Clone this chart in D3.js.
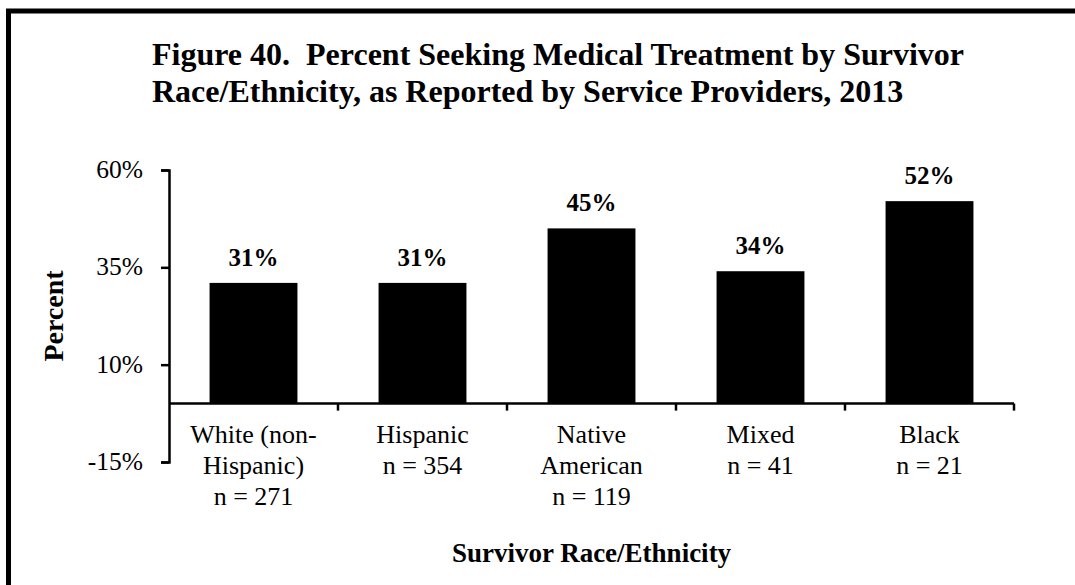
<!DOCTYPE html>
<html>
<head>
<meta charset="utf-8">
<script src="https://cdn.jsdelivr.net/npm/d3@7"></script>
<style>
  body { margin: 0; background: #fff; }
  svg { display: block; font-family: "Liberation Serif", "Times New Roman", serif; }
  text { white-space: pre; }
</style>
</head>
<body>
<div id="chart"></div>
<script>
const categories = [
  ["White (non-", "Hispanic)", "n = 271"],
  ["Hispanic", "n = 354"],
  ["Native", "American", "n = 119"],
  ["Mixed", "n = 41"],
  ["Black", "n = 21"]
];
const values = [31, 31, 45, 34, 52];
const yTicks = [-15, 10, 35, 60];
const titleLines = [
  "Figure 40.  Percent Seeking Medical Treatment by Survivor",
  "Race/Ethnicity, as Reported by Service Providers, 2013"
];

const width = 1075, height = 585;
const margin = { left: 169, right: 61, top: 170, bottom: 123 };

const svg = d3.select('#chart')
  .append('svg')
  .attr('width', width)
  .attr('height', height);

// frame (runs off the right and bottom edge like the original)
svg.append('rect')
  .attr('x', 8.5).attr('y', 11)
  .attr('width', 1100).attr('height', 600)
  .attr('fill', 'none')
  .attr('stroke', '#000')
  .attr('stroke-width', 5);

svg.append('text')
  .attr('x', 152).attr('y', 65)
  .attr('font-size', 32).attr('font-weight', 'bold')
  .selectAll('tspan')
  .data(titleLines)
  .enter()
  .append('tspan')
  .attr('x', 152)
  .attr('dy', (d, i) => i === 0 ? 0 : 37)
  .text(d => d);

const x = d3.scaleBand()
  .domain(d3.range(values.length))
  .range([margin.left, width - margin.right])
  .paddingInner(0.48)
  .paddingOuter(0.24);

const y = d3.scaleLinear()
  .domain([-15, 60])
  .range([height - margin.bottom, margin.top]);

// bars
svg.selectAll('rect.bar')
  .data(values)
  .enter()
  .append('rect')
  .attr('class', 'bar')
  .attr('x', (d, i) => x(i))
  .attr('y', d => y(d))
  .attr('width', x.bandwidth())
  .attr('height', d => y(0) - y(d))
  .attr('fill', '#000');

// value labels
svg.selectAll('text.val')
  .data(values)
  .enter()
  .append('text')
  .attr('class', 'val')
  .attr('x', (d, i) => x(i) + x.bandwidth() / 2)
  .attr('y', d => y(d) - 17)
  .attr('text-anchor', 'middle')
  .attr('font-size', 25)
  .attr('font-weight', 'bold')
  .text(d => d + '%');

// y axis
const yAxis = svg.append('g')
  .attr('transform', `translate(${margin.left},0)`)
  .call(d3.axisLeft(y).tickValues(yTicks).tickSize(8).tickPadding(18).tickFormat(d => d + '%'));
yAxis.select('.domain').attr('stroke', '#000').attr('stroke-width', 2.5);
yAxis.selectAll('.tick line').attr('stroke', '#000').attr('stroke-width', 2.5);
yAxis.selectAll('.tick text')
  .attr('font-family', '"Liberation Serif", serif')
  .attr('font-size', 25.5)
  .attr('fill', '#000')
  .attr('dy', '0.3em');

// x axis along zero, ticks between categories
const step = x.step();
const boundaries = d3.range(values.length + 1).map(i => margin.left + i * step);
const xg = svg.append('g');
xg.append('line')
  .attr('x1', margin.left).attr('x2', width - margin.right)
  .attr('y1', y(0)).attr('y2', y(0))
  .attr('stroke', '#000').attr('stroke-width', 2.5);
xg.selectAll('line.tk')
  .data(boundaries.slice(1))
  .enter()
  .append('line')
  .attr('class', 'tk')
  .attr('x1', d => d).attr('x2', d => d)
  .attr('y1', y(0)).attr('y2', y(0) + 7)
  .attr('stroke', '#000').attr('stroke-width', 2.5);

// category labels
const cat = svg.selectAll('text.cat')
  .data(categories)
  .enter()
  .append('text')
  .attr('class', 'cat')
  .attr('text-anchor', 'middle')
  .attr('font-size', 26)
  .attr('y', 443);
cat.selectAll('tspan')
  .data((d, i) => d.map(t => ({ t, i })))
  .enter()
  .append('tspan')
  .attr('x', d => x(d.i) + x.bandwidth() / 2)
  .attr('dy', (d, j) => j === 0 ? 0 : 31)
  .text(d => d.t);

// axis titles
svg.append('text')
  .attr('transform', `translate(63,${(y(60) + y(-15)) / 2}) rotate(-90)`)
  .attr('text-anchor', 'middle')
  .attr('font-size', 28)
  .attr('font-weight', 'bold')
  .text('Percent');

svg.append('text')
  .attr('x', (margin.left + width - margin.right) / 2)
  .attr('y', 562)
  .attr('text-anchor', 'middle')
  .attr('font-size', 27)
  .attr('font-weight', 'bold')
  .text('Survivor Race/Ethnicity');
</script>
</body>
</html>
